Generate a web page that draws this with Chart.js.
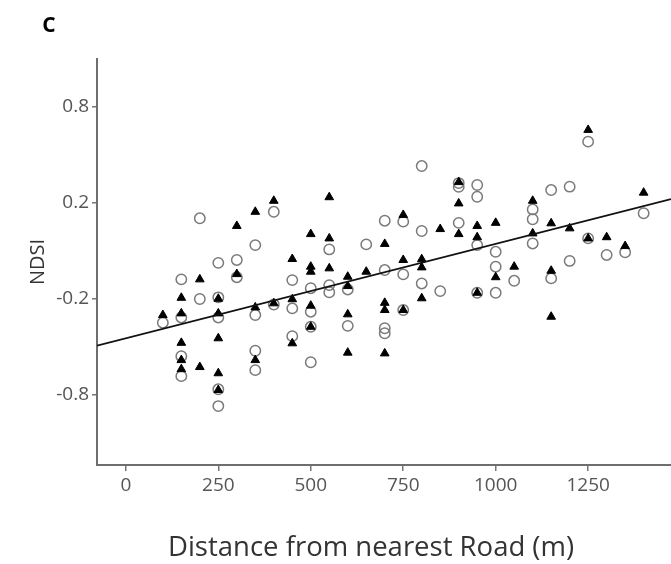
<!DOCTYPE html>
<html>
<head>
<meta charset="utf-8">
<script src="https://cdn.jsdelivr.net/npm/chart.js@4.4.1/dist/chart.umd.min.js"></script>
<style>
  html, body { margin: 0; padding: 0; background: #ffffff; }
  #wrap { width: 671px; height: 564px; position: relative; }
</style>
</head>
<body>
<div id="wrap"><canvas id="c" width="671" height="564"></canvas></div>
<script>
// ---- data ----
const panelLabel = 'C';
const xTitle = 'Distance from nearest Road (m)';
const yTitle = 'NDSI';
const xTickValues = [0, 250, 500, 750, 1000, 1250];
const yTickValues = [-0.6, -0.2, 0.2, 0.6];
const yTickLabels = ['-0.8', '-0.2', '0.2', '0.8'];

// open circles
const circleX = [100, 150, 150, 150, 150, 200, 200, 250, 250, 250, 250, 250, 300, 300,
  350, 350, 350, 350, 400, 400, 450, 450, 450, 500, 500, 500, 500, 550, 550, 550, 600, 600,
  650, 700, 700, 700, 700, 750, 750, 750, 800, 800, 800, 850, 900, 900, 900,
  950, 950, 950, 950, 1000, 1000, 1000, 1050, 1100, 1100, 1100, 1150, 1150,
  1200, 1200, 1250, 1250, 1300, 1350, 1400];
const circleY = [-0.301, -0.120, -0.279, -0.441, -0.524, 0.135, -0.202, -0.051, -0.195, -0.279, -0.579, -0.649, -0.039, -0.111,
  0.023, -0.269, -0.418, -0.499, 0.162, -0.225, -0.123, -0.241, -0.357, -0.157, -0.255, -0.318, -0.466, 0.005, -0.144, -0.174, -0.162, -0.314,
  0.026, 0.125, -0.081, -0.324, -0.345, 0.121, -0.099, -0.248, 0.353, 0.082, -0.137, -0.169, 0.282, 0.266, 0.116,
  0.274, 0.225, 0.023, -0.176, -0.005, -0.067, -0.176, -0.126, 0.172, 0.131, 0.030, 0.253, -0.116,
  0.267, -0.043, 0.455, 0.051, -0.018, -0.007, 0.156];

// filled triangles
const triangleX = [100, 150, 150, 150, 150, 150, 200, 200, 250, 250, 250, 250, 250, 300, 300,
  350, 350, 350, 400, 400, 450, 450, 450, 500, 500, 500, 500, 500, 550, 550, 550,
  600, 600, 600, 600, 650, 700, 700, 700, 700, 750, 750, 750, 800, 800, 800, 850,
  900, 900, 900, 950, 950, 950, 1000, 1000, 1050, 1100, 1100, 1150, 1150, 1150,
  1200, 1250, 1250, 1300, 1350, 1400];
const triangleY = [-0.269, -0.197, -0.262, -0.385, -0.457, -0.495, -0.120, -0.486, -0.201, -0.262, -0.366, -0.512, -0.582, 0.103, -0.098,
  0.162, -0.237, -0.457, 0.208, -0.220, -0.035, -0.203, -0.387, 0.069, -0.067, -0.088, -0.230, -0.318, 0.223, 0.051, -0.074,
  -0.109, -0.148, -0.266, -0.426, -0.088, 0.028, -0.218, -0.248, -0.429, 0.149, -0.039, -0.248, -0.036, -0.070, -0.199, 0.090,
  0.286, 0.197, 0.069, 0.103, 0.056, -0.176, 0.116, -0.111, -0.067, 0.208, 0.072, 0.114, -0.084, -0.276,
  0.093, 0.504, 0.051, 0.056, 0.019, 0.242];

// fitted regression line
const fitIntercept = -0.366;
const fitSlope = 0.000394;

// axis extents
const xMin = -78, xMax = 1474;
const yMin = -0.895, yMax = 0.80;

// ---- build ----
const circlePts = circleX.map((x, i) => ({ x: x, y: circleY[i] }));
const trianglePts = triangleX.map((x, i) => ({ x: x, y: triangleY[i] }));
const fitPts = [xMin, xMax].map(x => ({ x: x, y: fitIntercept + fitSlope * x }));

const FONT = "'Open Sans', 'DejaVu Sans', sans-serif";

const textPlugin = {
  id: 'extraText',
  afterDraw(chart) {
    const ctx = chart.ctx;
    ctx.save();
    ctx.fillStyle = '#000000';
    ctx.font = 'bold 21px ' + FONT;
    ctx.textAlign = 'center';
    ctx.textBaseline = 'middle';
    ctx.fillText(panelLabel, 49, 26);
    ctx.fillStyle = '#333333';
    ctx.font = '27.5px ' + FONT;
    ctx.fillText(xTitle, 371, 548);
    ctx.restore();
  }
};

const bgPlugin = {
  id: 'bg',
  beforeDraw(chart) {
    const ctx = chart.ctx;
    ctx.save();
    ctx.fillStyle = '#ffffff';
    ctx.fillRect(0, 0, chart.width, chart.height);
    ctx.restore();
  }
};

new Chart(document.getElementById('c'), {
  type: 'scatter',
  data: {
    datasets: [
      {
        type: 'line',
        label: 'fit',
        data: fitPts,
        borderColor: '#111111',
        borderWidth: 1.8,
        pointRadius: 0,
        fill: false,
        tension: 0
      },
      {
        label: 'triangles',
        data: trianglePts,
        pointStyle: 'triangle',
        pointRadius: 5,
        backgroundColor: '#000000',
        borderColor: '#000000',
        borderWidth: 1
      },
      {
        label: 'circles',
        data: circlePts,
        pointStyle: 'circle',
        pointRadius: 5.2,
        backgroundColor: 'rgba(0,0,0,0)',
        borderColor: '#7a7a7a',
        borderWidth: 1.5
      }
    ]
  },
  options: {
    responsive: false,
    animation: false,
    devicePixelRatio: 1,
    layout: { autoPadding: false, padding: { top: 59, left: 0, right: 0, bottom: 0 } },
    plugins: {
      legend: { display: false },
      tooltip: { enabled: false },
      title: { display: false }
    },
    scales: {
      x: {
        type: 'linear',
        min: xMin,
        max: xMax,
        afterFit(scale) { scale.height = 99; scale.paddingLeft = 0; scale.paddingRight = 0; },
        afterBuildTicks(scale) { scale.ticks = xTickValues.map(v => ({ value: v })); },
        ticks: {
          color: '#555555',
          font: { family: FONT, size: 19 },
          padding: 3,
          maxRotation: 0,
          callback: v => String(v)
        },
        grid: { drawOnChartArea: false, drawTicks: true, tickLength: 6, color: '#777777', lineWidth: 1.5 },
        border: { display: true, color: '#6e6e6e', width: 2 },
        title: { display: false }
      },
      y: {
        type: 'linear',
        min: yMin,
        max: yMax,
        afterFit(scale) { scale.width = 97; scale.paddingTop = 0; scale.paddingBottom = 0; },
        afterBuildTicks(scale) { scale.ticks = yTickValues.map(v => ({ value: v })); },
        ticks: {
          color: '#555555',
          font: { family: FONT, size: 19 },
          padding: 3,
          callback: function (v) {
            const i = yTickValues.findIndex(t => Math.abs(t - v) < 1e-9);
            return i >= 0 ? yTickLabels[i] : '';
          }
        },
        grid: { drawOnChartArea: false, drawTicks: true, tickLength: 5, color: '#777777', lineWidth: 1.5 },
        border: { display: true, color: '#6e6e6e', width: 2 },
        title: {
          display: true,
          text: yTitle,
          color: '#333333',
          font: { family: FONT, size: 20 },
          padding: { top: 26, bottom: 0 }
        }
      }
    }
  },
  plugins: [bgPlugin, textPlugin]
});
</script>
</body>
</html>
